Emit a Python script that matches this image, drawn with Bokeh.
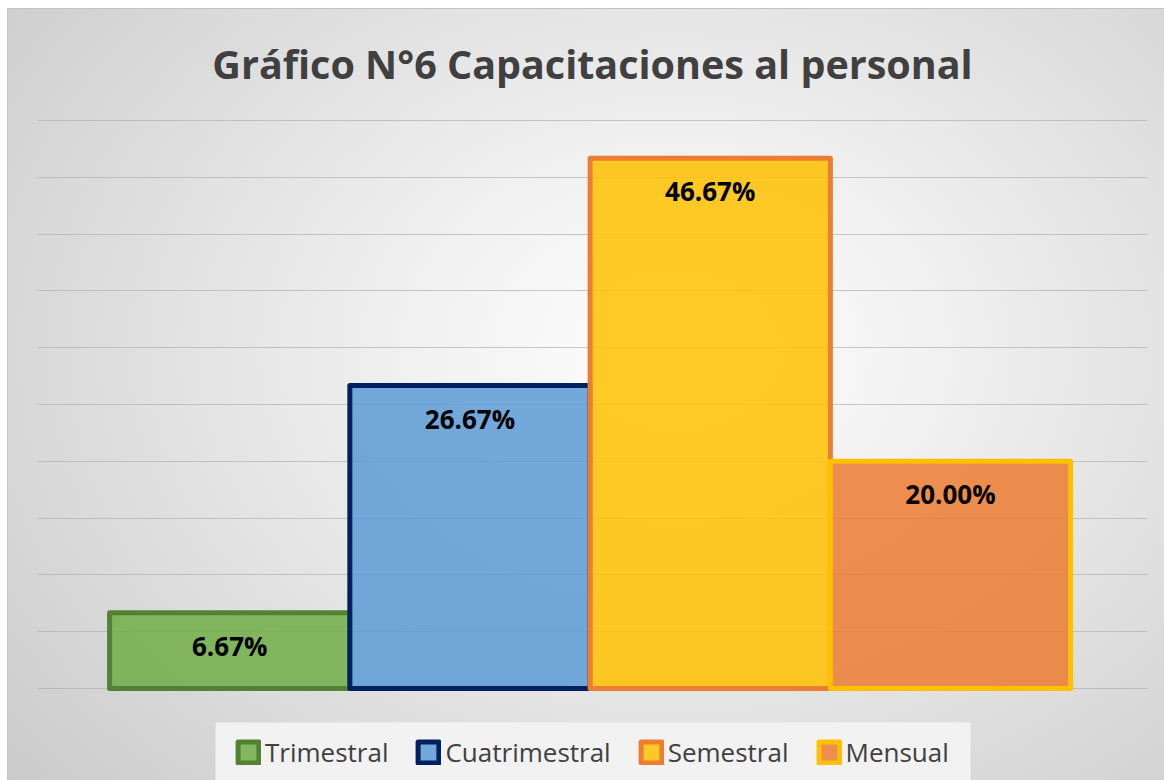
from bokeh.plotting import figure
from bokeh.models import (ColumnDataSource, Range1d, Legend, LegendItem, SingleIntervalTicker,
                          BoxAnnotation)
from bokeh.embed import file_html
from bokeh.resources import INLINE
from bokeh.core.properties import value

# ---- data ----
categories = ["Trimestral", "Cuatrimestral", "Semestral", "Mensual"]
values = [0.0667, 0.2667, 0.4667, 0.2000]
labels = ["6.67%", "26.67%", "46.67%", "20.00%"]
fill_colors = ["#70ad47", "#5b9bd5", "#ffc000", "#ed7d31"]
line_colors = ["#548235", "#002060", "#ed7d31", "#ffc000"]
title_text = "Gráfico N°6 Capacitaciones al personal"

idx = list(range(len(categories)))
src = ColumnDataSource(dict(x=idx, top=values, cat=categories, lab=labels,
                            fc=fill_colors, lc=line_colors))

# frame: x 37..1147, y 118..780 ; value 0 at y=688, 0.5 at y=120
p = figure(width=1164, height=780, output_backend="svg", toolbar_location=None,
           x_range=Range1d(-0.8, 3.82), y_range=Range1d(-0.081, 0.5018),
           min_border_left=37, min_border_right=17, min_border_top=118, min_border_bottom=0)

p.background_fill_color = None
p.border_fill_color = None
p.outline_line_color = None
p.styles = {
    "background": (
        "linear-gradient(#ffffff,#ffffff) left top / 7px 100% no-repeat, "
        "linear-gradient(#ffffff,#ffffff) left top / 100% 8px no-repeat, "
        "linear-gradient(#c4c4c4,#c4c4c4) 7px 8px / 1px 100% no-repeat, "
        "linear-gradient(#c4c4c4,#c4c4c4) 7px 8px / 100% 1px no-repeat, "
        "radial-gradient(ellipse 75% 85% at 58% 45%, #ffffff 0%, #f1f1f1 30%, #dedede 65%, #cbcbcb 100%)"
    ),
}

p.axis.visible = False
p.xgrid.visible = False
p.ygrid.ticker = SingleIntervalTicker(interval=0.05)
p.ygrid.bounds = (0, 0.5)
p.ygrid.grid_line_color = "#b0b0b0"
p.ygrid.grid_line_alpha = 0.7
p.ygrid.grid_line_width = 1

r = p.vbar(x="x", top="top", width=1.0, source=src, fill_color="fc", fill_alpha=0.85,
           line_color="lc", line_width=5, line_join="round")

p.text(x="x", y="top", text="lab", source=src, text_align="center", text_baseline="middle",
       y_offset=33, text_font=value("Open Sans"), text_font_style="bold",
       text_font_size="26px", text_color="#000000")

p.title.text = title_text
p.title.align = "center"
p.title.text_font = "Open Sans"
p.title.text_font_style = "bold"
p.title.text_font_size = "39.5px"
p.title.text_color = "#404040"
p.title.standoff = 56

# legend background panel
legend_bg = BoxAnnotation(left=215, right=970, top=722, bottom=782,
                          left_units="canvas", right_units="canvas",
                          top_units="canvas", bottom_units="canvas",
                          fill_color="#f2f2f2", fill_alpha=1, line_color=None)
p.add_layout(legend_bg)

items = [LegendItem(label=c, renderers=[r], index=i) for i, c in enumerate(categories)]
legend = Legend(items=items, orientation="horizontal", location=(198, 10),
                background_fill_color="#f2f2f2", background_fill_alpha=0,
                border_line_color=None, label_text_font="Open Sans",
                label_text_font_size="26px", label_text_color="#404040",
                glyph_width=26, glyph_height=26, label_standoff=4, spacing=27,
                padding=22, margin=0)
p.add_layout(legend)

open("out.html", "w").write(file_html(p, INLINE))
